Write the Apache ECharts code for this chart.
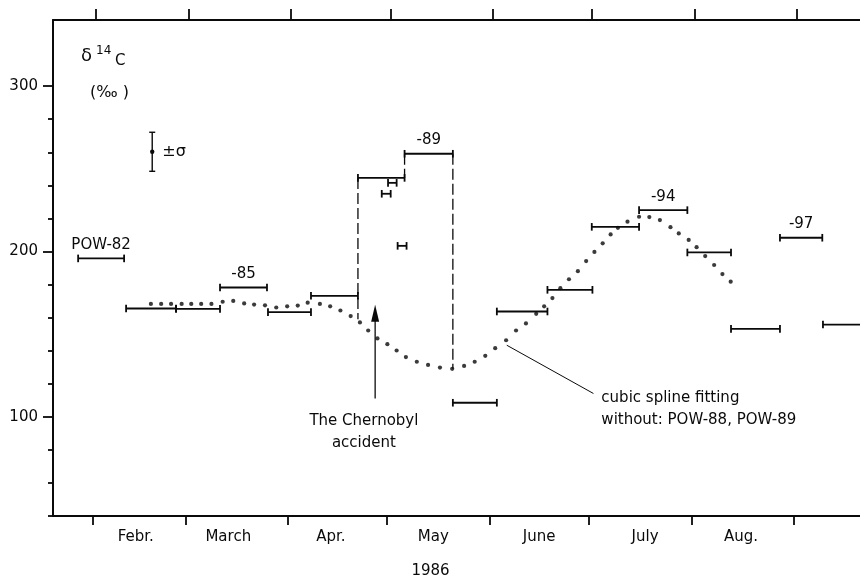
<!DOCTYPE html>
<html>
<head>
<meta charset="utf-8">
<script src="https://cdn.jsdelivr.net/npm/echarts@6/dist/echarts.min.js"></script>
<style>html,body{margin:0;padding:0;background:#fff}#c{width:860px;height:584px}</style>
</head>
<body>
<div id="c"></div>
<script>
// ---- data (x = day of year 1986, y = delta 14C in permil) ----
const monthTickDays = [32, 60, 91, 121, 152, 182, 213, 244];
const monthLabelDays = [45, 73, 104, 135, 167, 199, 228];
const monthNames = ['Febr.', 'March', 'Apr.', 'May', 'June', 'July', 'Aug.'];
const yMajorTicks = [100, 200, 300];
const yMinorTicks = [40, 60, 80, 120, 140, 160, 180, 220, 240, 260, 280];

const sampleStart = [27.6, 42.1, 57.2, 70.5, 85.0, 98.0, 112.2, 126.3, 121.3, 119.4, 124.2, 140.9, 154.2, 169.5, 182.9, 197.2, 211.8, 225.0, 239.8, 252.8];
const sampleEnd   = [41.5, 57.2, 70.5, 84.7, 98.0, 112.2, 126.3, 140.9, 123.9, 122.1, 126.9, 154.2, 169.5, 183.1, 197.2, 211.8, 225.0, 239.8, 252.6, 270.0];
const sampleValue = [195.8, 165.5, 165.3, 178.2, 163.3, 173.2, 244.5, 259.1, 241.5, 234.9, 203.4, 108.5, 163.7, 176.8, 214.9, 225.0, 199.4, 153.2, 208.3, 155.8];
const sampleLabel = ['POW-82', '', '', '-85', '', '', '', '-89', '', '', '', '', '', '', '', '-94', '', '', '-97', ''];

const splineDay = [49.6, 52.7, 55.7, 58.9, 61.8, 64.8, 67.9, 71.3, 74.5, 77.8, 80.8, 84.1, 87.5, 90.8, 94.0, 97.0, 100.7, 103.8, 106.9, 110.0, 112.8, 115.3, 118.1, 121.1, 123.9, 126.7, 130.0, 133.4, 137.0, 140.7, 144.3, 147.5, 150.7, 153.7, 157.0, 160.0, 163.0, 166.1, 168.5, 171.0, 173.4, 176.0, 178.7, 181.2, 183.7, 186.2, 188.6, 190.8, 193.7, 197.2, 200.3, 203.5, 206.7, 209.2, 212.2, 214.6, 217.2, 219.9, 222.4, 224.9];
const splineValue = [168.3, 168.3, 168.3, 168.3, 168.3, 168.3, 168.3, 169.6, 170.1, 168.6, 167.9, 167.4, 166.1, 166.8, 167.3, 169.0, 168.3, 166.8, 164.3, 160.9, 157.1, 152.2, 147.4, 143.9, 140.1, 136.1, 133.3, 131.4, 129.8, 129.0, 130.8, 133.3, 136.9, 141.5, 146.3, 152.2, 156.5, 162.3, 166.8, 171.8, 177.8, 183.2, 188.1, 194.2, 199.7, 204.9, 210.3, 214.3, 218.0, 221.0, 220.8, 219.0, 214.7, 210.9, 207.0, 202.6, 197.2, 191.8, 186.3, 181.7];

const dashDay = [112.2, 126.3, 140.9];
const dashTop = [244.5, 259.1, 259.1];
const dashBottom = [159.0, 244.5, 129.0];

const chernobylDay = 117.4;
const arrowBase = 111.0;
const arrowTip = 167.8;

const leaderFrom = [157.2, 143.3];
const leaderTo = [183.4, 114.1];

const sigmaDay = 50.0, sigmaValue = 260.3, sigmaErr = 11.8;

const noteTexts = ['The Chernobyl\naccident', 'cubic spline fitting\nwithout: POW-88, POW-89'];
const noteDays = [114.0, 185.8];
const noteValues = [91.0, 104.6];
const noteAlign = ['center', 'left'];

// ---- chart ----
const INK = '#0a0a0a';
const FONT = 'DejaVu Sans';
const FS = 15;
const chart = echarts.init(document.getElementById('c'), null, {renderer: 'canvas'});

const sampleData = sampleStart.map((s, i) => [s, sampleEnd[i], sampleValue[i], i]);

function line(x1, y1, x2, y2, w, dash) {
  return {type: 'line', shape: {x1, y1, x2, y2}, style: {stroke: INK, lineWidth: w || 1.8, lineDash: dash || null}};
}

const option = {
  backgroundColor: '#fff',
  animation: false,
  textStyle: {fontFamily: FONT, color: INK},
  grid: {left: 53, right: 0, top: 20, bottom: 60, containLabel: false},
  xAxis: [
    {
      type: 'value', min: 20, max: 264, position: 'bottom',
      axisLine: {show: true, lineStyle: {color: INK, width: 2}},
      axisTick: {show: true, inside: false, length: 9, customValues: monthTickDays, lineStyle: {color: INK, width: 1.8}},
      axisLabel: {show: true, customValues: monthLabelDays, margin: 14, fontSize: FS, fontFamily: FONT, color: INK,
        formatter: v => monthNames[monthLabelDays.indexOf(v)] || ''},
      splitLine: {show: false},
      name: '1986', nameLocation: 'middle', nameGap: 48,
      nameTextStyle: {fontSize: FS, fontFamily: FONT, color: INK, padding: [0, 52, 0, 0]}
    },
    {
      type: 'value', min: 19, max: 263, position: 'top',
      axisLine: {show: true, lineStyle: {color: INK, width: 2}},
      axisTick: {show: true, inside: false, length: 11, customValues: monthTickDays, lineStyle: {color: INK, width: 1.8}},
      axisLabel: {show: false},
      splitLine: {show: false}
    }
  ],
  yAxis: [
    {
      type: 'value', min: 40, max: 340, position: 'left',
      axisLine: {show: true, lineStyle: {color: INK, width: 2}},
      axisTick: {show: true, inside: false, length: 10, customValues: yMajorTicks, lineStyle: {color: INK, width: 1.8}},
      axisLabel: {show: true, customValues: yMajorTicks, margin: 15, fontSize: FS, fontFamily: FONT, color: INK},
      splitLine: {show: false}
    },
    {
      type: 'value', min: 40, max: 340, position: 'left',
      axisLine: {show: false},
      axisTick: {show: true, inside: false, length: 5, customValues: yMinorTicks, lineStyle: {color: INK, width: 1.8}},
      axisLabel: {show: false},
      splitLine: {show: false}
    }
  ],
  graphic: [
    {type: 'text', left: 81, top: 47, style: {text: 'δ', font: '18px ' + FONT, fill: INK}},
    {type: 'text', left: 96, top: 45, style: {text: '14', font: '12px ' + FONT, fill: INK}},
    {type: 'text', left: 115, top: 54, style: {text: 'C', font: '15px ' + FONT, fill: INK}},
    {type: 'text', left: 90, top: 85, style: {text: '(‰ )', font: '16px ' + FONT, fill: INK}}
  ],
  series: [
    {
      type: 'custom', name: 'samples', clip: true, silent: true,
      data: sampleData,
      renderItem: (params, api) => {
        const s = api.coord([api.value(0), api.value(2)]);
        const e = api.coord([api.value(1), api.value(2)]);
        const idx = api.value(3);
        const h = 3.8;
        const kids = [
          line(s[0], s[1], e[0], s[1], 1.8),
          line(s[0], s[1] - h, s[0], s[1] + h, 1.8),
          line(e[0], s[1] - h, e[0], s[1] + h, 1.8)
        ];
        const lab = sampleLabel[idx];
        if (lab) {
          kids.push({type: 'text', style: {text: lab, x: (s[0] + e[0]) / 2, y: s[1] - 6, align: 'center', verticalAlign: 'bottom', font: FS + 'px ' + FONT, fill: INK}});
        }
        return {type: 'group', children: kids};
      }
    },
    {
      type: 'custom', name: 'dashes', silent: true,
      data: dashDay.map((d, i) => [d, dashTop[i], dashBottom[i]]),
      renderItem: (params, api) => {
        const a = api.coord([api.value(0), api.value(1)]);
        const b = api.coord([api.value(0), api.value(2)]);
        return line(a[0], a[1], b[0], b[1], 1.3, [11, 4]);
      }
    },
    {
      type: 'scatter', name: 'cubic spline', silent: true,
      symbol: 'circle', symbolSize: 4.2,
      itemStyle: {color: INK},
      data: splineDay.map((d, i) => [d, splineValue[i]])
    },
    {
      type: 'custom', name: 'arrow', silent: true,
      data: [[chernobylDay, arrowBase, arrowTip]],
      renderItem: (params, api) => {
        const b = api.coord([api.value(0), api.value(1)]);
        const t = api.coord([api.value(0), api.value(2)]);
        return {type: 'group', children: [
          line(b[0], b[1], t[0], t[1] + 10, 1.3),
          {type: 'polygon', shape: {points: [[t[0], t[1]], [t[0] - 4, t[1] + 17], [t[0] + 4, t[1] + 17]]}, style: {fill: INK}}
        ]};
      }
    },
    {
      type: 'custom', name: 'leader', silent: true,
      data: [[leaderFrom[0], leaderFrom[1], leaderTo[0], leaderTo[1]]],
      renderItem: (params, api) => {
        const a = api.coord([api.value(0), api.value(1)]);
        const b = api.coord([api.value(2), api.value(3)]);
        return line(a[0], a[1], b[0], b[1], 1);
      }
    },
    {
      type: 'custom', name: 'sigma', silent: true,
      data: [[sigmaDay, sigmaValue, sigmaErr]],
      renderItem: (params, api) => {
        const c = api.coord([api.value(0), api.value(1)]);
        const t = api.coord([api.value(0), api.value(1) + api.value(2)]);
        const b = api.coord([api.value(0), api.value(1) - api.value(2)]);
        return {type: 'group', children: [
          line(c[0], t[1], c[0], b[1], 1.4),
          line(c[0] - 3, t[1], c[0] + 3, t[1], 1.4),
          line(c[0] - 3, b[1], c[0] + 3, b[1], 1.4),
          {type: 'circle', shape: {cx: c[0], cy: c[1], r: 2.2}, style: {fill: INK}},
          {type: 'text', style: {text: '±σ', x: c[0] + 10, y: c[1], align: 'left', verticalAlign: 'middle', font: '16px ' + FONT, fill: INK}}
        ]};
      }
    },
    {
      type: 'custom', name: 'notes', silent: true,
      data: noteTexts.map((t, i) => [noteDays[i], noteValues[i], i]),
      renderItem: (params, api) => {
        const p = api.coord([api.value(0), api.value(1)]);
        const i = api.value(2);
        return {type: 'text', style: {text: noteTexts[i], x: p[0], y: p[1], align: noteAlign[i], verticalAlign: 'middle', font: FS + 'px ' + FONT, fill: INK, lineHeight: 22}};
      }
    }
  ]
};
chart.setOption(option);
</script>
</body>
</html>
